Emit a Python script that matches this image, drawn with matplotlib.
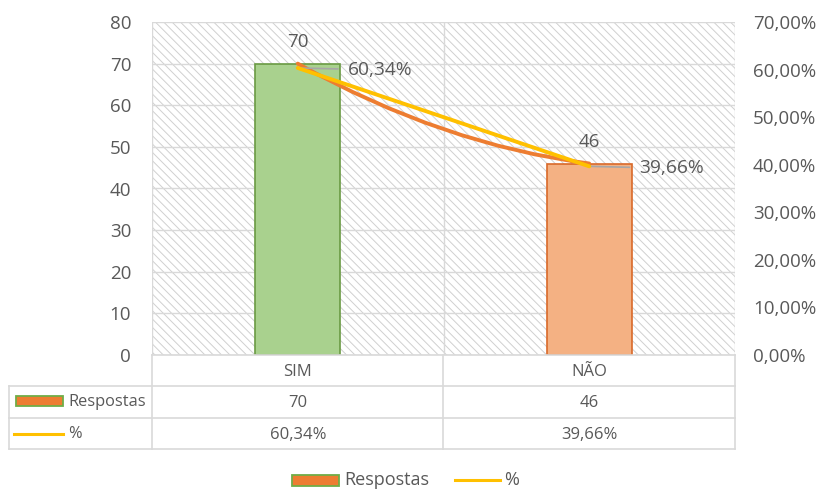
import matplotlib
matplotlib.use("Agg")
import matplotlib.pyplot as plt
from matplotlib.lines import Line2D
from matplotlib.patches import Rectangle, PathPatch
from matplotlib.path import Path
import matplotlib.transforms as mtransforms

# ---- data ----
categories = ["SIM", "NÃO"]
respostas = [70, 46]
percent = [60.34, 39.66]
left_ticks = [0, 10, 20, 30, 40, 50, 60, 70, 80]
right_ticks = [0, 10, 20, 30, 40, 50, 60, 70]
series_names = ["Respostas", "%"]

# ---- style ----
W, H = 822, 490
TXT = "#595959"
GRID = "#d9d9d9"
plt.rcParams['font.family'] = ['Open Sans', 'DejaVu Sans']
plt.rcParams['hatch.linewidth'] = 0.7

bar_fill = ["#A9D18E", "#F4B183"]
bar_edge = ["#6A9A43", "#D9692A"]
ORANGE = "#ED7D31"
YELLOW = "#FFC000"
CURVE_SAG = 7.5  # visual bow of the smoothed line

fig = plt.figure(figsize=(W / 100, H / 100), dpi=100)
L, R, T, B = 152, 735, 22, 355
ax = fig.add_axes([L / W, 1 - B / H, (R - L) / W, (B - T) / H])
ax2 = ax.twinx()

def fx(px):
    return px / W

def fy(py):
    return 1 - py / H

x = list(range(len(categories)))

# hatched background
ax.add_patch(Rectangle((0, 0), 1, 1, transform=ax.transAxes, facecolor="white",
                       edgecolor="#d0d0d0", hatch="\\\\\\\\", lw=0, zorder=0))
ax.set_xlim(-0.5, len(categories) - 0.5)
ax.set_ylim(0, 80)
ax2.set_ylim(0, 70)
ax.set_yticks(left_ticks)
ax2.set_yticks(right_ticks)
ax2.set_yticklabels([f"{v:.2f}%".replace(".", ",") for v in right_ticks])
ax.set_yticklabels([str(v) for v in left_ticks])
ax.set_xticks([])
ax2.set_xticks([])
for a in (ax, ax2):
    for s in a.spines.values():
        s.set_visible(False)
    a.tick_params(length=0, colors=TXT, labelsize=13.5)
ax.tick_params(axis='y', pad=15)
ax2.tick_params(axis='y', pad=13)
ax.grid(axis='y', color=GRID, lw=1, zorder=1)
ax.set_axisbelow(True)
for xv in [-0.5, 0.5, 1.5]:
    ax.axvline(xv, color=GRID, lw=1, zorder=1)

# bars
ax.bar(x, respostas, width=0.29, color=bar_fill, edgecolor=bar_edge, linewidth=1.2, zorder=3)
for xi, v in zip(x, respostas):
    ax.annotate(str(v), (xi, v), xytext=(0, 22), textcoords="offset pixels",
                ha="center", va="center", color=TXT, fontsize=13.5)

# smoothed orange line through the bar tops
mid = (respostas[0] + respostas[1]) / 2 - CURVE_SAG
path = Path([(x[0], respostas[0]), (0.5, mid), (x[1], respostas[1])],
            [Path.MOVETO, Path.CURVE3, Path.CURVE3])
ax.add_patch(PathPatch(path, facecolor="none", edgecolor=ORANGE, lw=2.8, zorder=4,
                       capstyle="round"))

# percent line
ax2.plot(x, percent, color=YELLOW, lw=2.8, zorder=5, solid_capstyle="round")
for xi, p in zip(x, percent):
    ax2.annotate(f"{p:.2f}%".replace(".", ","), (xi, p), xytext=(50, -2),
                 textcoords="offset pixels", ha="left", va="center", color=TXT,
                 fontsize=13.8,
                 arrowprops=dict(arrowstyle="-", color="#a6a6a6", lw=1.2,
                                 shrinkA=5, shrinkB=0))

# ---- data table ----
def hline(py, x0, x1):
    fig.add_artist(Line2D([fx(x0), fx(x1)], [fy(py), fy(py)], color=GRID, lw=1.2,
                          transform=fig.transFigure))

def vline(px, y0, y1):
    fig.add_artist(Line2D([fx(px), fx(px)], [fy(y0), fy(y1)], color=GRID, lw=1.2,
                          transform=fig.transFigure))

rows = [355, 386, 418, 449]
hline(355, L, R)
for py in rows[1:]:
    hline(py, 9, R)
vline(9, 386, 449)
for px in [L, 443, R]:
    vline(px, 355, 449)

blend = mtransforms.blended_transform_factory(ax.transData, fig.transFigure)
row_vals = [categories, [str(v) for v in respostas],
            [f"{p:.2f}%".replace(".", ",") for p in percent]]
for r, vals in enumerate(row_vals):
    yc = (rows[r] + rows[r + 1]) / 2 + 1
    for xi, t in zip(x, vals):
        fig.text(xi, fy(yc), t, transform=blend, ha="center", va="center",
                 color=TXT, fontsize=12)

# legend keys in table
fig.add_artist(Rectangle((fx(16), fy(406)), fx(63) - fx(16), fy(396) - fy(406),
                         facecolor=ORANGE, edgecolor="#70AD47", lw=1.3,
                         transform=fig.transFigure))
fig.text(fx(68), fy(402), series_names[0], ha="left", va="center", color=TXT, fontsize=11.8)
fig.add_artist(Line2D([fx(14), fx(63)], [fy(434), fy(434)], color=YELLOW, lw=2.2,
                      transform=fig.transFigure))
fig.text(fx(68), fy(434), series_names[1], ha="left", va="center", color=TXT, fontsize=11.8)

# bottom legend
fig.add_artist(Rectangle((fx(292), fy(486)), fx(339) - fx(292), fy(475) - fy(486),
                         facecolor=ORANGE, edgecolor="#70AD47", lw=1.3,
                         transform=fig.transFigure))
fig.text(fx(344), fy(480), series_names[0], ha="left", va="center", color=TXT, fontsize=13)
fig.add_artist(Line2D([fx(455), fx(500)], [fy(480), fy(480)], color=YELLOW, lw=2.2,
                      transform=fig.transFigure))
fig.text(fx(504), fy(480), series_names[1], ha="left", va="center", color=TXT, fontsize=13)

fig.savefig("out.png", dpi=100, facecolor="white")
